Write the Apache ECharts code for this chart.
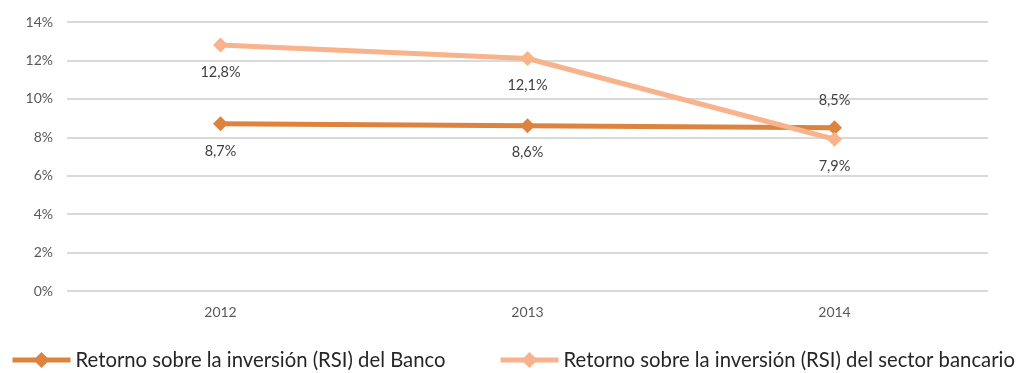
<!DOCTYPE html>
<html>
<head>
<meta charset="utf-8">
<script src="https://cdn.jsdelivr.net/npm/echarts@6/dist/echarts.min.js"></script>
<style>
  html, body { margin: 0; padding: 0; background: #fff; }
  #chart { width: 1024px; height: 373px; }
</style>
</head>
<body>
<div id="chart"></div>
<script>
// Años
const years = ['2012', '2013', '2014'];
// Retorno sobre la inversión (%)
const rsiBanco = [8.7, 8.6, 8.5];
const rsiSector = [12.8, 12.1, 7.9];
// Posición de cada etiqueta de valor
const bancoLabelPos = ['bottom', 'bottom', 'top'];
const sectorLabelPos = ['bottom', 'bottom', 'bottom'];

const nameBanco = 'Retorno sobre la inversión (RSI) del Banco';
const nameSector = 'Retorno sobre la inversión (RSI) del sector bancario';

const FONT = 'Lato, "Open Sans", sans-serif';
const fmt = v => v.toFixed(1).replace('.', ',') + '%';

function points(values, positions) {
  return values.map((v, i) => ({
    value: v,
    label: { position: positions[i] }
  }));
}

function legendAt(left, name) {
  return {
    top: 350,
    left: left,
    padding: 0,
    itemWidth: 58,
    itemHeight: 20,
    lineStyle: { width: 5 },
    textStyle: { fontFamily: FONT, fontSize: 20.3, color: '#262626' },
    data: [name]
  };
}

const chart = echarts.init(document.getElementById('chart'));
chart.setOption({
  animation: false,
  grid: { left: 67, right: 36, top: 22, bottom: 82 },
  legend: [legendAt(10, nameBanco), legendAt(498, nameSector)],
  xAxis: {
    type: 'category',
    data: years,
    axisLine: { show: false },
    axisTick: { show: false },
    axisLabel: { fontFamily: FONT, fontSize: 14, color: '#595959', margin: 14 }
  },
  yAxis: {
    type: 'value',
    min: 0,
    max: 14,
    interval: 2,
    axisLine: { show: false },
    axisTick: { show: false },
    splitLine: { lineStyle: { color: '#d9d9d9', width: 2 } },
    axisLabel: {
      fontFamily: FONT, fontSize: 14, color: '#595959', margin: 14,
      formatter: v => v + '%'
    }
  },
  series: [
    {
      name: nameBanco,
      type: 'line',
      data: points(rsiBanco, bancoLabelPos),
      symbol: 'diamond',
      symbolSize: 15,
      lineStyle: { width: 5, color: '#dc843f' },
      itemStyle: { color: '#dc843f' },
      label: {
        show: true,
        distance: 12,
        fontFamily: FONT, fontSize: 14.5, color: '#404040',
        formatter: p => fmt(p.value)
      },
      z: 2
    },
    {
      name: nameSector,
      type: 'line',
      data: points(rsiSector, sectorLabelPos),
      symbol: 'diamond',
      symbolSize: 15,
      lineStyle: { width: 5, color: '#f8b28c' },
      itemStyle: { color: '#f8b28c' },
      label: {
        show: true,
        distance: 12,
        fontFamily: FONT, fontSize: 14.5, color: '#404040',
        formatter: p => fmt(p.value)
      },
      z: 3
    }
  ]
});
</script>
</body>
</html>
